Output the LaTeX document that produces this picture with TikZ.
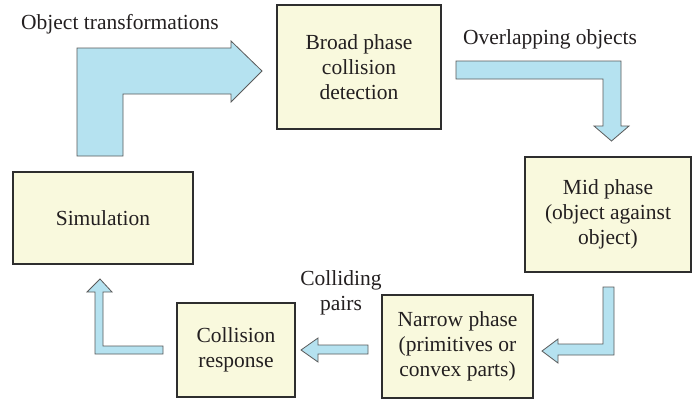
\documentclass[tikz,border=0pt]{standalone}
\usepackage{fontspec}
\setmainfont{Liberation Serif}
\begin{document}
\begin{tikzpicture}[x=1pt,y=-1pt,
  every node/.style={font=\fontsize{21.5}{25}\selectfont, text=txt},
  box/.style={draw=boxline, line width=1.8pt, fill=boxfill, align=center, inner sep=0pt, anchor=center},
  lbl/.style={align=center, inner sep=0pt, anchor=center},
  blk/.style={draw=arrline, line width=0.8pt, fill=arrfill, line join=miter}]
\definecolor{boxfill}{HTML}{F9F9DD}
\definecolor{boxline}{HTML}{2E2E2E}
\definecolor{arrfill}{HTML}{B5E2F0}
\definecolor{arrline}{HTML}{5A5A5A}
\definecolor{txt}{HTML}{231F20}
\useasboundingbox[fill=white] (0,0) rectangle (693,402);

\node[box, minimum width=164pt, minimum height=124pt] (broad) at (359,67) {Broad phase\\collision\\detection};
\node[box, minimum width=166pt, minimum height=115pt] (mid) at (608,214.5) {Mid phase\\(object against\\object)};
\node[box, minimum width=151pt, minimum height=103pt] (narrow) at (457.5,346.5) {Narrow phase\\(primitives or\\convex parts)};
\node[box, minimum width=118pt, minimum height=94pt] (resp) at (236,350) {Collision\\response};
\node[box, minimum width=180pt, minimum height=92pt] (sim) at (103,218) {Simulation};

\node[lbl] (l1) at (120,24) {Object transformations};
\node[lbl] (l2) at (550,39) {Overlapping objects};
\node[lbl] (l3) at (341,293) {Colliding\\pairs};

% Simulation -> Broad phase
\draw[blk] (77,156) -- (77,48) -- (231,48) -- (231,41) -- (262,71) -- (231,102) -- (231,94) -- (123,94) -- (123,156) -- cycle;
% Broad phase -> Mid phase
\draw[blk] (456,61) -- (621,61) -- (621,126) -- (629,126) -- (611.5,141) -- (594,126) -- (603,126) -- (603,79) -- (456,79) -- cycle;
% Mid phase -> Narrow phase
\draw[blk] (603,287) -- (614,287) -- (614,355) -- (558,355) -- (558,363) -- (542,351) -- (558,339) -- (558,344) -- (603,344) -- cycle;
% Narrow phase -> Collision response
\draw[blk] (368,345) -- (368,354) -- (318,354) -- (318,362) -- (301,350) -- (318,338) -- (318,345) -- cycle;
% Collision response -> Simulation
\draw[blk] (163,346) -- (163,354) -- (95,354) -- (95,292) -- (87,292) -- (100,279) -- (112,292) -- (103,292) -- (103,346) -- cycle;
\end{tikzpicture}
\end{document}
